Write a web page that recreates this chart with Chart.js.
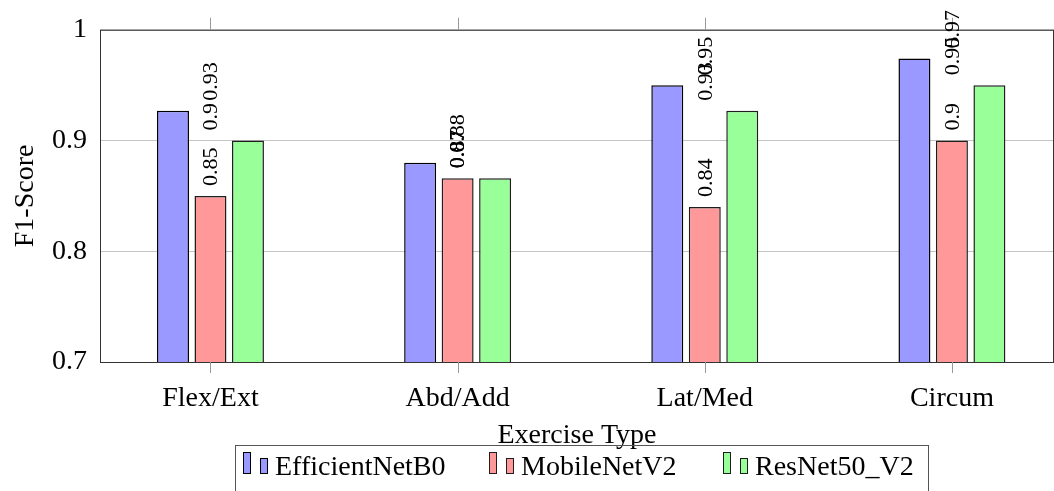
<!DOCTYPE html>
<html>
<head>
<meta charset="utf-8">
<script src="https://cdn.jsdelivr.net/npm/chart.js@4.4.0/dist/chart.umd.min.js"></script>
<style>
  body { margin: 0; background: #fff; overflow: hidden; }
  canvas { display: block; }
</style>
</head>
<body>
<canvas id="chart" width="1054" height="491"></canvas>
<script>
const categories = ["Flex/Ext", "Abd/Add", "Lat/Med", "Circum"];
const seriesNames = ["EfficientNetB0", "MobileNetV2", "ResNet50_V2"];
const efficientNet = [0.927, 0.88, 0.95, 0.974];
const mobileNet = [0.85, 0.866, 0.84, 0.9];
const resNet = [0.9, 0.866, 0.927, 0.95];
const yTicks = [0.7, 0.8, 0.9, 1];

const fills = ["rgb(153,153,255)", "rgb(255,153,153)", "rgb(153,255,153)"];
const borders = ["#000000", "#1e1e1e", "#1e1e1e"];
const serif = '"Liberation Serif", "Times New Roman", serif';

const toPoints = (vals) => vals.map((v, i) => ({ x: i, y: v }));
const fmt = (v) => String(Math.round(v * 100) / 100);

const datasets = [efficientNet, mobileNet, resNet].map((vals, k) => ({
  label: seriesNames[k],
  data: toPoints(vals),
  backgroundColor: fills[k],
  borderColor: borders[k],
  borderWidth: 1.5,
  categoryPercentage: 0.455,
  barPercentage: 0.853
}));

// axis frame, outside tick marks, node labels, axis titles and legend
const pgfLook = {
  id: "pgfLook",
  afterDatasetsDraw(chart) {
    const { ctx, chartArea: a, scales } = chart;
    ctx.save();
    ctx.strokeStyle = "#333";
    ctx.lineWidth = 1;
    ctx.strokeRect(a.left + 0.5, a.top + 0.5, a.right - a.left - 1, a.bottom - a.top);
    ctx.strokeStyle = "#999";
    categories.forEach((c, i) => {
      const x = Math.round(scales.x.getPixelForValue(i)) + 0.5;
      ctx.beginPath();
      ctx.moveTo(x, a.top - 12); ctx.lineTo(x, a.top);
      ctx.moveTo(x, a.bottom); ctx.lineTo(x, a.bottom + 11);
      ctx.stroke();
    });
    ctx.restore();
  },
  afterDraw(chart) {
    const { ctx, chartArea: a, scales } = chart;
    ctx.save();
    ctx.fillStyle = "#000";

    // value labels, all stacked at the group centre (as pgfplots did)
    ctx.font = "22px " + serif;
    ctx.textAlign = "left";
    ctx.textBaseline = "middle";
    chart.data.datasets.forEach((ds) => {
      ds.data.forEach((p) => {
        const x = scales.x.getPixelForValue(p.x);
        const y = scales.y.getPixelForValue(p.y) - 10;
        ctx.save();
        ctx.translate(x, y);
        ctx.rotate(-Math.PI / 2);
        ctx.fillText(fmt(p.y), 0, 1);
        ctx.restore();
      });
    });

    // axis titles
    ctx.font = "28px " + serif;
    ctx.textAlign = "center";
    ctx.textBaseline = "alphabetic";
    ctx.save();
    ctx.translate(33, (a.top + a.bottom) / 2);
    ctx.rotate(-Math.PI / 2);
    ctx.fillText("F1-Score", 0, 0);
    ctx.restore();
    ctx.fillText("Exercise Type", (a.left + a.right) / 2, 443);

    // legend box
    ctx.strokeStyle = "#555";
    ctx.lineWidth = 1;
    ctx.strokeRect(235.5, 445.5, 693, 60);
    const starts = [243, 489, 723];
    chart.data.datasets.forEach((ds, k) => {
      const x0 = starts[k];
      ctx.fillStyle = ds.backgroundColor;
      ctx.strokeStyle = ds.borderColor;
      ctx.fillRect(x0, 452, 7, 21);
      ctx.strokeRect(x0 + 0.5, 452.5, 7, 21);
      ctx.fillRect(x0 + 17, 458, 7, 15);
      ctx.strokeRect(x0 + 17.5, 458.5, 7, 15);
      ctx.fillStyle = "#000";
      ctx.textAlign = "left";
      ctx.fillText(ds.label, x0 + 32, 475);
    });
    ctx.restore();
  }
};

new Chart(document.getElementById("chart"), {
  type: "bar",
  data: { datasets },
  options: {
    responsive: false,
    animation: false,
    layout: { padding: { top: 28, right: 0, bottom: 0, left: 0 } },
    plugins: { legend: { display: false }, tooltip: { enabled: false } },
    scales: {
      x: {
        type: "linear",
        offset: false,
        min: -0.447,
        max: 3.413,
        afterFit: (s) => { s.height = 129; },
        afterBuildTicks: (s) => { s.ticks = categories.map((c, i) => ({ value: i })); },
        ticks: {
          includeBounds: false,
          autoSkip: false,
          maxRotation: 0,
          padding: 20,
          color: "#000",
          font: { family: serif, size: 28 },
          callback: (v) => categories[v]
        },
        grid: { display: false, offset: false, drawTicks: false },
        border: { display: false }
      },
      y: {
        min: 0.7,
        max: 1,
        afterFit: (s) => { s.width = 100; },
        afterBuildTicks: (s) => { s.ticks = yTicks.map((v) => ({ value: v })); },
        ticks: {
          padding: 13,
          color: "#000",
          font: { family: serif, size: 28 },
          callback: (v) => String(Math.round(v * 10) / 10)
        },
        grid: { color: "#c4c4c4", drawTicks: false },
        border: { display: false }
      }
    }
  },
  plugins: [pgfLook]
});
</script>
</body>
</html>
